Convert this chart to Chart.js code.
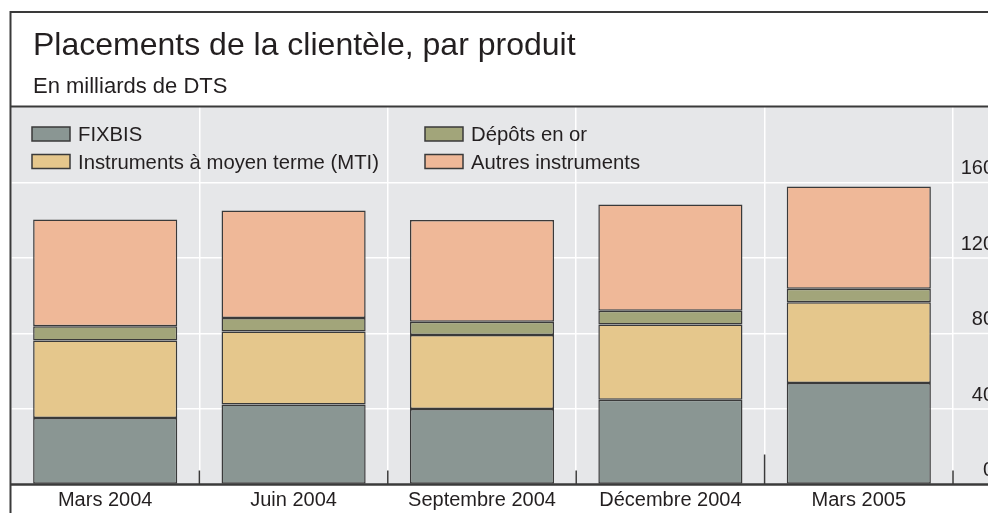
<!DOCTYPE html>
<html><head><meta charset="utf-8">
<script src="https://cdn.jsdelivr.net/npm/chart.js@4.4.1/dist/chart.umd.min.js"></script>
<style>
html,body{margin:0;padding:0;overflow:hidden;background:#fff;width:988px;height:513px}
#wrap{width:994px;height:513px;position:relative}
</style></head>
<body><div id="wrap"><canvas id="c" width="994" height="513"></canvas></div>
<script>
// ---- data ----
const categories = ['Mars 2004', 'Juin 2004', 'Septembre 2004', 'Décembre 2004', 'Mars 2005'];
const fixbis = [35.2, 42.4, 40.0, 44.9, 53.8];
const mti    = [41.1, 38.7, 39.2, 39.9, 42.7];
const depotsOr = [7.5, 7.1, 7.0, 7.3, 7.2];
const autres = [56.6, 56.9, 53.9, 56.3, 54.2];
const yTickValues = [0, 40, 80, 120, 160];
const yMax = 200;
const seriesNames = ['FIXBIS', 'Instruments à moyen terme (MTI)', 'Dépôts en or', 'Autres instruments'];
const titleText = 'Placements de la clientèle, par produit';
const subtitleText = 'En milliards de DTS';

// ---- styles ----
const FONT = '"Liberation Sans", Arial, Helvetica, sans-serif';
const INK = '#231f20';
const LINE = '#3a3a3a';
const PANEL = '#e6e7e9';
const colors = ['#8a9693', '#e5c78c', '#a2a57a', '#efb898'];
const PANEL_TOP = 107;

const frame = {
  id: 'frame',
  beforeDraw(chart) {
    const {ctx, chartArea: a, scales} = chart;
    const W = chart.width;
    ctx.save();
    ctx.fillStyle = '#fff';
    ctx.fillRect(0, 0, W, chart.height);
    ctx.fillStyle = PANEL;
    ctx.fillRect(11, PANEL_TOP, W - 11, a.bottom - PANEL_TOP);
    // extend horizontal gridlines under the value labels
    ctx.strokeStyle = '#fff';
    ctx.lineWidth = 1.5;
    yTickValues.forEach(v => {
      const y = scales.y.getPixelForValue(v);
      ctx.beginPath(); ctx.moveTo(a.right, y); ctx.lineTo(W, y); ctx.stroke();
    });
    ctx.restore();
  },
  afterDraw(chart) {
    const {ctx, chartArea: a, scales} = chart;
    const W = chart.width;
    const x = scales.x;
    ctx.save();
    // tick marks at category boundaries (taller at year change)
    ctx.strokeStyle = LINE;
    ctx.lineWidth = 1.5;
    const n = categories.length;
    for (let i = 1; i <= n; i++) {
      const px = i < n ? (x.getPixelForValue(i - 1) + x.getPixelForValue(i)) / 2 : a.right;
      const yearChange = i < n && categories[i].slice(-4) !== categories[i - 1].slice(-4);
      const len = yearChange ? 30 : 14;
      ctx.beginPath(); ctx.moveTo(px, a.bottom); ctx.lineTo(px, a.bottom - len); ctx.stroke();
    }
    // frame lines
    ctx.lineWidth = 2;
    ctx.strokeStyle = LINE;
    ctx.beginPath();
    ctx.moveTo(10, 12); ctx.lineTo(W, 12);
    ctx.moveTo(10, PANEL_TOP - 0.5); ctx.lineTo(W, PANEL_TOP - 0.5);
    ctx.moveTo(10.5, 11); ctx.lineTo(10.5, chart.height);
    ctx.stroke();
    ctx.lineWidth = 2.5;
    ctx.beginPath();
    ctx.moveTo(10, a.bottom); ctx.lineTo(W, a.bottom);
    ctx.stroke();
    // header
    ctx.fillStyle = INK;
    ctx.textAlign = 'left';
    ctx.textBaseline = 'alphabetic';
    ctx.font = '32px ' + FONT;
    ctx.fillText(titleText, 33, 55);
    ctx.font = '22px ' + FONT;
    ctx.fillText(subtitleText, 33, 93);
    // legend (2 columns x 2 rows)
    ctx.font = '20.3px ' + FONT;
    const colX = [32, 425];
    const rowY = [127, 154.5];
    chart.data.datasets.forEach((ds, i) => {
      const bx = colX[Math.floor(i / 2)], by = rowY[i % 2];
      ctx.fillStyle = ds.backgroundColor;
      ctx.fillRect(bx, by, 38, 14);
      ctx.strokeStyle = LINE; ctx.lineWidth = 1.5;
      ctx.strokeRect(bx, by, 38, 14);
      ctx.fillStyle = INK;
      ctx.fillText(ds.label, bx + 46, by + 14.3);
    });
    ctx.restore();
  }
};

const seriesData = [fixbis, mti, depotsOr, autres];
const datasets = seriesData.map((d, i) => ({
  label: seriesNames[i],
  data: d,
  backgroundColor: colors[i],
  borderColor: LINE,
  borderWidth: 1.5,
  borderSkipped: false,
  barPercentage: 1,
  categoryPercentage: 0.765
}));

new Chart(document.getElementById('c'), {
  type: 'bar',
  data: {labels: categories, datasets},
  plugins: [frame],
  options: {
    responsive: false,
    animation: false,
    devicePixelRatio: 1,
    layout: {padding: {top: PANEL_TOP, left: 11, right: 0, bottom: 0}},
    plugins: {legend: {display: false}, title: {display: false}, tooltip: {enabled: false}},
    scales: {
      x: {
        stacked: true,
        offset: true,
        grid: {offset: true, color: '#fff', lineWidth: 1.5, drawTicks: false},
        border: {display: false},
        ticks: {color: INK, font: {family: FONT, size: 20}, padding: 4, maxRotation: 0, autoSkip: false},
        afterFit(s) { s.height = 28.5; }
      },
      y: {
        stacked: true,
        position: 'right',
        min: 0, max: yMax,
        afterBuildTicks(s) { s.ticks = yTickValues.concat([yMax]).map(v => ({value: v})); },
        grid: {color: ctx => ctx.tick && ctx.tick.value === yMax ? 'rgba(0,0,0,0)' : '#fff', lineWidth: 1.5, drawTicks: false},
        border: {display: false},
        ticks: {
          color: INK, font: {family: FONT, size: 20},
          crossAlign: 'far', padding: 6.5, labelOffset: -14,
          callback: v => (yTickValues.includes(v) ? String(v) : '')
        },
        afterFit(s) { s.width = 41; }
      }
    }
  }
});
</script>
</body></html>
